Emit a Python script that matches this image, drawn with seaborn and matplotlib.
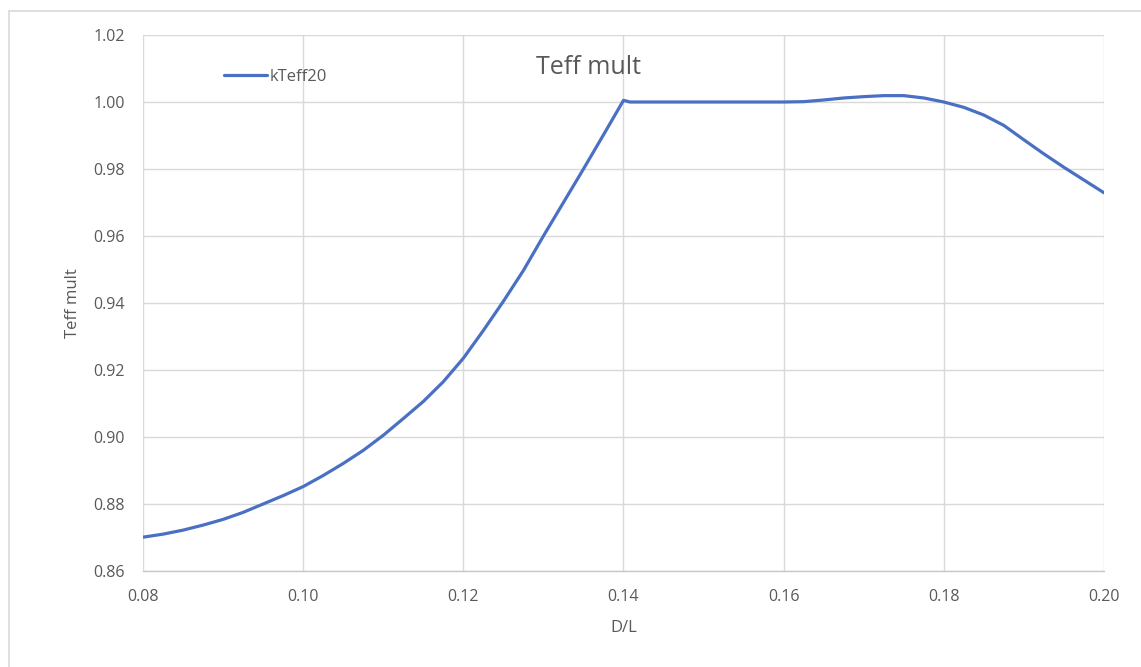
import numpy as np
import pandas as pd
import matplotlib
matplotlib.use("Agg")
import matplotlib.pyplot as plt
import seaborn as sns
from matplotlib.lines import Line2D

# ---- data ----
dl = [0.080, 0.0825, 0.085, 0.0875, 0.090, 0.0925, 0.095, 0.0975, 0.100, 0.1025,
      0.105, 0.1075, 0.110, 0.1125, 0.115, 0.1175, 0.120, 0.1225, 0.125, 0.1275,
      0.130, 0.1325, 0.135, 0.1375, 0.140, 0.1408, 0.145, 0.150, 0.155, 0.160,
      0.1625, 0.165, 0.1675, 0.170, 0.1725, 0.175, 0.1775, 0.180, 0.1825, 0.185,
      0.1875, 0.190, 0.1925, 0.195, 0.1975, 0.200]
kteff20 = [0.8701, 0.8710, 0.8722, 0.8737, 0.8754, 0.8775, 0.8800, 0.8825, 0.8852, 0.8885,
           0.8921, 0.8960, 0.9005, 0.9055, 0.9106, 0.9165, 0.9235, 0.9318, 0.9405, 0.9497,
           0.9600, 0.9700, 0.9800, 0.9902, 1.0005, 1.0000, 1.0000, 1.0000, 1.0000, 1.0000,
           1.0001, 1.0006, 1.0012, 1.0016, 1.0019, 1.0019, 1.0012, 1.0000, 0.9984, 0.9961,
           0.9930, 0.9887, 0.9845, 0.9805, 0.9767, 0.9729]
x_ticks = [0.08, 0.10, 0.12, 0.14, 0.16, 0.18, 0.20]
y_ticks = [0.86, 0.88, 0.90, 0.92, 0.94, 0.96, 0.98, 1.00, 1.02]
series_name = "kTeff20"
title = "Teff mult"
x_label = "D/L"
y_label = "Teff mult"

df = pd.DataFrame({"D/L": dl, "value": kteff20, "series": series_name})

sns.set_theme(style="white")
plt.rcParams["font.family"] = ["Open Sans", "DejaVu Sans"]

TXT = "#595959"
GRID = "#d9d9d9"
BLUE = "#4a70c4"

fig = plt.figure(figsize=(11.41, 6.67), dpi=100)
ax = fig.add_axes([143 / 1141, 1 - 571 / 667, (1104 - 143) / 1141, (571 - 35) / 667])

sns.lineplot(data=df, x="D/L", y="value", hue="series", palette=[BLUE],
             linewidth=2.3, ax=ax, sort=False)
for ln in ax.get_lines():
    ln.set_solid_joinstyle("round")
    ln.set_solid_capstyle("round")

ax.set_xlim(0.08, 0.20)
ax.set_ylim(0.86, 1.02)
ax.set_xticks(x_ticks)
ax.set_yticks(y_ticks)
ax.set_xticklabels([f"{v:.2f}" for v in x_ticks])
ax.set_yticklabels([f"{v:.2f}" for v in y_ticks])
ax.tick_params(axis="both", length=0, labelsize=11.5, colors=TXT)
ax.tick_params(axis="y", pad=13)
ax.tick_params(axis="x", pad=13)
ax.grid(True, color=GRID, linewidth=1.0)
for side in ["top", "right", "left"]:
    ax.spines[side].set_visible(False)
ax.spines["bottom"].set_color("#c8c8c8")
ax.spines["bottom"].set_linewidth(1.0)

ax.set_xlabel(x_label, fontsize=12, color=TXT, labelpad=11)
ax.set_ylabel(y_label, fontsize=12, color=TXT, labelpad=9)

ax.text((588 - 143) / 961, (571 - 67) / 536, title, transform=ax.transAxes,
        ha="center", va="center", fontsize=18, color=TXT)

leg = ax.legend(loc="center left", bbox_to_anchor=((224 - 143) / 961, (571 - 77) / 536),
                frameon=False, borderaxespad=0, borderpad=0, handlelength=2.6,
                handletextpad=0.12, fontsize=12)
for t in leg.get_texts():
    t.set_color(TXT)

# outer chart border (partially visible in the reference)
fig.add_artist(Line2D([9 / 1141, 9 / 1141], [0, 1 - 11 / 667], color=GRID, linewidth=1.2,
                      transform=fig.transFigure))
fig.add_artist(Line2D([9 / 1141, 1], [1 - 11 / 667, 1 - 11 / 667], color=GRID, linewidth=1.2,
                      transform=fig.transFigure))

fig.savefig("out.png", dpi=100, facecolor="white")
